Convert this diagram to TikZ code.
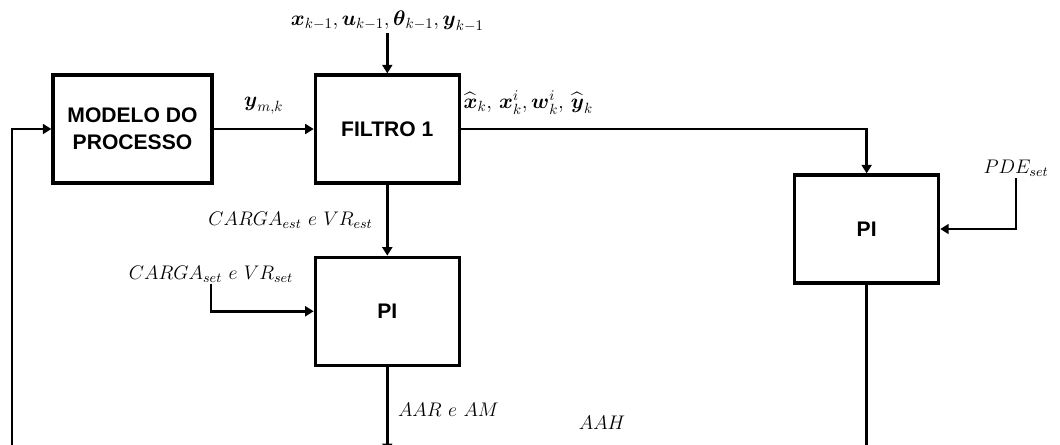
\RequirePackage{fix-cm}
\documentclass[tikz,border=0pt]{standalone}
\usepackage{amsmath,amssymb}
\usepackage{fontspec}
\setsansfont{Liberation Sans}
\usetikzlibrary{arrows.meta, positioning}

\begin{document}
\begin{tikzpicture}[
    x=0.025cm, y=-0.025cm,
    node distance=2.5cm,
    block/.style={rectangle, draw=black, line width=2.3pt, minimum width=3.6cm, minimum height=2.7cm, align=center, font=\sffamily\bfseries\fontsize{15}{19}\selectfont},
    arrow/.style={-{Triangle[length=6pt, width=7pt]}, line width=1.9pt},
    line/.style={line width=1.9pt},
    lbl/.style={font=\fontsize{14}{16}\selectfont, inner sep=1pt},
    vec/.style={font=\fontsize{15}{17}\selectfont, inner sep=1pt}
]
\useasboundingbox (0,0) rectangle (1060,445);

% Blocks
\node[block, minimum width=3.975cm] (modelo) at (132.5,129) {MODELO DO\\PROCESSO};
\node[block, right=2.5cm of modelo] (filtro) {FILTRO 1};
\node[block, below=1.775cm of filtro] (pi1) {PI};
\node[block, right=8.3cm of filtro, yshift=-2.5cm] (pi2) {PI};

% Inputs and free ends
\node[vec, above=1.0cm of filtro] (prev) {$\boldsymbol{x}_{k-1},\boldsymbol{u}_{k-1},\boldsymbol{\theta}_{k-1},\boldsymbol{y}_{k-1}$};
\node[lbl] (cargaset) at (211,274) {$CARGA_{set}\ e\ VR_{set}$};
\node[lbl] (pdeset) at (1016,168) {$PDE_{set}$};
\node[lbl] (aah) at (602,423) {$AAH$};
\coordinate (fb) at (12,450);
\coordinate (pi1out) at (pi1.south |- 0,452);
\coordinate (pi2out) at (pi2.south |- 0,450);

% Connections
\draw[arrow] (prev) -- (filtro);
\draw[arrow] (modelo) -- node[vec, above=0.3cm] {$\boldsymbol{y}_{m,k}$} (filtro);
\draw[arrow] (filtro.east) -| node[vec, pos=0, anchor=south west, yshift=0.3cm] {$\widehat{\boldsymbol{x}}_k,\,\boldsymbol{x}_k^i, \boldsymbol{w}_k^i,\,\widehat{\boldsymbol{y}}_k$} (pi2.north);
\draw[arrow] (filtro) -- node[lbl, left=0.3cm] {$CARGA_{est}\ e\ VR_{est}$} (pi1);
\draw[arrow] (cargaset.south) |- (pi1.west);
\draw[arrow] (pdeset.south) |- (pi2.east);
\draw[arrow] (pi1) -- node[lbl, right=0.2cm, pos=0.5] {$AAR\ e\ AM$} (pi1out);
\draw[line] (pi2) -- (pi2out);
\draw[arrow] (fb) |- (modelo.west);

\end{tikzpicture}
\end{document}
